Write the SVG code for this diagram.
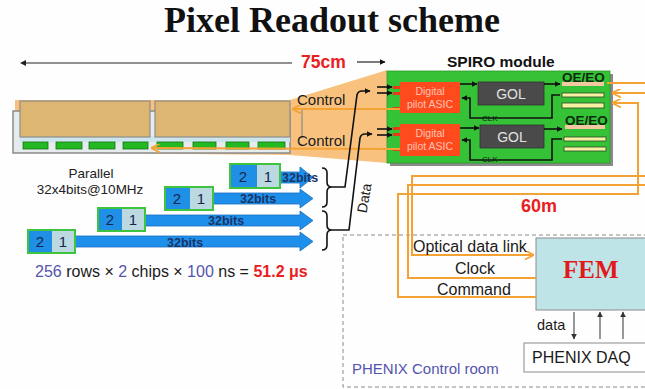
<svg xmlns="http://www.w3.org/2000/svg" width="645" height="389" viewBox="0 0 645 389">
  <style>
    .sans { font-family: "Liberation Sans", Arial, sans-serif; }
    .serif { font-family: "Liberation Serif", "Times New Roman", serif; }
    .orange { fill: none; stroke: #F5A235; stroke-width: 2; }
    .blk { fill: none; stroke: #111; stroke-width: 1.6; }
    .chip { fill: #23B923; stroke: #167016; stroke-width: 0.8; }
    .tan { fill: #DDB672; stroke: #8e8e8e; stroke-width: 1.2; }
    .blue { fill: #1E8FEA; stroke: #1670C0; stroke-width: 0.8; }
    .bits { font-family: "Liberation Sans", Arial, sans-serif; font-size: 12.5px; font-weight: bold; fill: #1B3466; }
    .digit { font-family: "Liberation Sans", Arial, sans-serif; font-size: 15px; fill: #16264f; text-anchor: middle; }
    .asic { fill: #FF4A1E; }
    .stub { fill: #E83A18; }
    .asictxt { font-family: "Liberation Sans", Arial, sans-serif; font-size: 10.5px; fill: #FFC2B4; text-anchor: middle; }
    .gol { fill: #4A4A4A; stroke: #333; stroke-width: 0.8; }
    .goltxt { font-family: "Liberation Sans", Arial, sans-serif; font-size: 14px; fill: #E2E2E2; text-anchor: middle; }
    .bar { fill: #F6F2A2; stroke: #2b4a2b; stroke-width: 0.8; }
    .peach { fill: #F2C8A0; }
    .oeeo { font-family: "Liberation Sans", Arial, sans-serif; font-size: 13.5px; font-weight: bold; fill: #0d2a0d; }
    .clk { font-family: "Liberation Sans", Arial, sans-serif; font-size: 8px; fill: #1a1a1a; }
    .lbl { font-family: "Liberation Sans", Arial, sans-serif; font-size: 16px; fill: #1a1a1a; }
    .pur { fill: #5454AE; }
  </style>
  <defs>
    <marker id="ah-black" viewBox="0 0 10 10" refX="9" refY="5" markerWidth="6" markerHeight="6" orient="auto" markerUnits="userSpaceOnUse">
      <path d="M0,0 L10,5 L0,10 z" fill="#111"/>
    </marker>
    <marker id="ah-orange" viewBox="0 0 10 10" refX="9" refY="5" markerWidth="9" markerHeight="9" orient="auto" markerUnits="userSpaceOnUse">
      <path d="M0,0 L10,5 L0,10" fill="none" stroke="#F5A235" stroke-width="2"/>
    </marker>
    <marker id="ah-gray" viewBox="0 0 10 10" refX="9" refY="5" markerWidth="6" markerHeight="6" orient="auto" markerUnits="userSpaceOnUse">
      <path d="M0,0 L10,5 L0,10 z" fill="#333"/>
    </marker>
  </defs>

  <rect width="645" height="389" fill="#FFFEFE"/>

  <!-- title -->
  <text x="332" y="32" class="serif" font-size="36" font-weight="bold" text-anchor="middle" fill="#111">Pixel Readout scheme</text>

  <!-- 75 cm span -->
  <g id="span-75cm">
    <line x1="22" y1="63" x2="292" y2="63" stroke="#222" stroke-width="1.2"/>
    <path d="M20,63 l6,-3 v6 z" fill="#222"/>
    <text x="301" y="68" class="sans" font-size="17.5" font-weight="bold" fill="#E8201E">75cm</text>
    <line x1="357" y1="62" x2="385" y2="62" stroke="#222" stroke-width="1.2" marker-end="url(#ah-black)"/>
  </g>

  <!-- orange cable fan between ladder and module -->
  <polygon id="cable-fan" points="15,100 290,100 387,70 387,163 290,155 15,152" fill="#F8C27E"/>

  <!-- pixel ladder -->
  <g id="ladder">
    <rect x="13" y="111" width="277" height="42" fill="#E6ECEE" stroke="#8a8a8a" stroke-width="1.5"/>
    <rect x="20" y="136" width="270" height="6" fill="#CDE5EC"/>
    <rect class="tan" x="20" y="101" width="130" height="36"/>
    <rect class="tan" x="155" y="101" width="135" height="36"/>
    <line x1="302" y1="108" x2="302" y2="138" stroke="#8a8a8a" stroke-width="1.2"/>
    <rect class="chip" x="23" y="142" width="25" height="7"/>
    <rect class="chip" x="56" y="142" width="26" height="7"/>
    <rect class="chip" x="89" y="142" width="26" height="7"/>
    <rect class="chip" x="123" y="142" width="25" height="7"/>
    <rect class="chip" x="157" y="142" width="26" height="7"/>
    <rect class="chip" x="193" y="142" width="23" height="7"/>
    <rect class="chip" x="226" y="142" width="23" height="7"/>
    <rect class="chip" x="258" y="142" width="27" height="7"/>
  </g>

  <!-- SPIRO module -->
  <g id="spiro-module">
    <text x="447" y="67" class="sans" font-size="15.5" font-weight="bold" fill="#111">SPIRO module</text>
    <rect x="390" y="74" width="223" height="92" fill="#8a8a8a"/>
    <rect x="387" y="71" width="223" height="92" fill="#36C236" stroke="#2a9a2a" stroke-width="0.8"/>
  </g>

  <g id="asic-top">
    <rect class="stub" x="393" y="86" width="8" height="3"/>
    <rect class="stub" x="393" y="92" width="8" height="3"/>
    <rect class="stub" x="393" y="107" width="8" height="3"/>
    <rect class="asic" x="400" y="82" width="60" height="31"/>
    <text x="430" y="95" class="asictxt">Digital</text>
    <text x="430" y="108" class="asictxt">pilot ASIC</text>
  </g>
  <g id="asic-bottom">
    <rect class="stub" x="393" y="127" width="8" height="3"/>
    <rect class="stub" x="393" y="133" width="8" height="3"/>
    <rect class="stub" x="393" y="148" width="8" height="3"/>
    <rect class="asic" x="400" y="124" width="60" height="32"/>
    <text x="430" y="137" class="asictxt">Digital</text>
    <text x="430" y="150" class="asictxt">pilot ASIC</text>
  </g>
  <g id="gol-top">
    <rect class="gol" x="478" y="82" width="66" height="23"/>
    <text x="511" y="99" class="goltxt">GOL</text>
  </g>
  <g id="gol-bottom">
    <rect class="gol" x="480" y="125" width="64" height="23"/>
    <text x="512" y="142" class="goltxt">GOL</text>
  </g>
  <g id="oeeo-top">
    <rect class="peach" x="562" y="82" width="42" height="4"/>
    <text x="562" y="82" class="oeeo">OE/EO</text>
    <rect class="bar" x="562" y="93" width="42" height="4"/>
    <rect class="bar" x="562" y="103" width="42" height="5"/>
  </g>
  <g id="oeeo-bottom">
    <rect class="peach" x="565" y="125" width="40" height="4"/>
    <text x="565" y="125" class="oeeo">OE/EO</text>
    <rect class="bar" x="564" y="137" width="42" height="4"/>
    <rect class="bar" x="564" y="147" width="42" height="4"/>
  </g>

  <!-- on-board signal paths -->
  <g id="board-connectors">
    <line class="blk" x1="460" y1="84" x2="477" y2="84" stroke-width="1.2" marker-end="url(#ah-black)"/>
    <line class="blk" x1="544" y1="84" x2="560" y2="84" stroke-width="1.2" marker-end="url(#ah-black)"/>
    <path class="blk" d="M560,95 H552 V118 H470 V98 H462" stroke-width="1.2" marker-end="url(#ah-black)"/>
    <text x="482" y="121" class="clk">CLK</text>
    <line class="blk" x1="460" y1="128" x2="479" y2="128" stroke-width="1.2" marker-end="url(#ah-black)"/>
    <line class="blk" x1="544" y1="129" x2="562" y2="129" stroke-width="1.2" marker-end="url(#ah-black)"/>
    <path class="blk" d="M562,139 H552 V160 H470 V140 H462" stroke-width="1.2" marker-end="url(#ah-black)"/>
    <text x="482" y="162" class="clk">CLK</text>
    <!-- paired input arrows -->
    <line class="blk" x1="377" y1="87" x2="392" y2="87" stroke-width="1.4" marker-end="url(#ah-black)"/>
    <line class="blk" x1="377" y1="93" x2="392" y2="93" stroke-width="1.4" marker-end="url(#ah-black)"/>
    <line class="blk" x1="377" y1="129" x2="392" y2="129" stroke-width="1.4" marker-end="url(#ah-black)"/>
    <line class="blk" x1="377" y1="135" x2="392" y2="135" stroke-width="1.4" marker-end="url(#ah-black)"/>
  </g>

  <!-- control lines to the ladder -->
  <g id="control-lines">
    <line class="orange" x1="400" y1="109" x2="293" y2="109" stroke-width="1.5" marker-end="url(#ah-orange)"/>
    <line class="orange" x1="400" y1="149" x2="152" y2="148" stroke-width="1.5" marker-end="url(#ah-orange)"/>
    <text x="297" y="105" class="sans" font-size="15" fill="#1a1a1a">Control</text>
    <text x="297" y="146" class="sans" font-size="15" fill="#1a1a1a">Control</text>
  </g>

  <!-- parallel readout streams -->
  <text x="91" y="178" class="sans" font-size="13.5" fill="#222" text-anchor="middle">Parallel</text>
  <text x="90" y="194" class="sans" font-size="13.5" fill="#222" text-anchor="middle">32x4bits@10MHz</text>

  <g id="stream-1">
    <path class="blue" d="M280,172 H300 V167 L313,177.5 L300,188 V183 H280 Z"/>
    <rect x="230" y="164" width="27" height="24" fill="#2090E6"/>
    <rect x="257" y="164" width="23" height="24" fill="#BCD8E0"/>
    <rect x="230" y="164" width="50" height="24" fill="none" stroke="#3EC43E" stroke-width="2"/>
    <text x="243" y="182" class="digit">2</text>
    <text x="268" y="182" class="digit">1</text>
    <text x="282" y="182" class="bits">32bits</text>
  </g>
  <g id="stream-2">
    <path class="blue" d="M213,193 H300 V189 L313,198.5 L300,208 V204 H213 Z"/>
    <rect x="165" y="187" width="25" height="23" fill="#2090E6"/>
    <rect x="190" y="187" width="23" height="23" fill="#BCD8E0"/>
    <rect x="165" y="187" width="48" height="23" fill="none" stroke="#3EC43E" stroke-width="2"/>
    <text x="177" y="204" class="digit">2</text>
    <text x="201" y="204" class="digit">1</text>
    <text x="240" y="203" class="bits">32bits</text>
  </g>
  <g id="stream-3">
    <path class="blue" d="M145,215 H300 V211 L313,220.5 L300,230 V226 H145 Z"/>
    <rect x="98" y="208" width="24" height="23" fill="#2090E6"/>
    <rect x="122" y="208" width="23" height="23" fill="#BCD8E0"/>
    <rect x="98" y="208" width="47" height="23" fill="none" stroke="#3EC43E" stroke-width="2"/>
    <text x="110" y="225" class="digit">2</text>
    <text x="133" y="225" class="digit">1</text>
    <text x="208" y="225" class="bits">32bits</text>
  </g>
  <g id="stream-4">
    <path class="blue" d="M75,236 H300 V232 L313,241.5 L300,251 V247 H75 Z"/>
    <rect x="28" y="230" width="24" height="23" fill="#2090E6"/>
    <rect x="52" y="230" width="23" height="23" fill="#BCD8E0"/>
    <rect x="28" y="230" width="47" height="23" fill="none" stroke="#3EC43E" stroke-width="2"/>
    <text x="40" y="247" class="digit">2</text>
    <text x="63" y="247" class="digit">1</text>
    <text x="167" y="247" class="bits">32bits</text>
  </g>

  <!-- data merge to module -->
  <g id="data-lines">
    <path class="blk" d="M322,168 q5,0 5,5 v9 q0,5 5,5 q-5,0 -5,5 v10 q0,5 -5,5"/>
    <path class="blk" d="M322,211 q5,0 5,5 v9 q0,5 5,5 q-5,0 -5,5 v10 q0,5 -5,5"/>
    <path class="blk" d="M332,187 H345 L357,95 Q358,91 362,91 H370" marker-end="url(#ah-black)"/>
    <path class="blk" d="M332,230 H349 L360,138 Q361,134 365,134 H372" marker-end="url(#ah-black)"/>
    <text x="0" y="0" class="sans" font-size="14" fill="#1a1a1a" text-anchor="middle" transform="translate(369,199) rotate(-80)">Data</text>
  </g>

  <text x="35" y="277" class="sans" font-size="16" fill="#1a1a1a"><tspan class="pur">256</tspan> rows × <tspan class="pur">2</tspan> chips × <tspan class="pur">100</tspan> ns = <tspan fill="#E8201E" font-weight="bold">51.2 μs</tspan></text>

  <!-- control room -->
  <g id="control-room">
    <rect x="343" y="235" width="320" height="152" fill="none" stroke="#8a8a8a" stroke-width="1" stroke-dasharray="4,3"/>
    <text x="352" y="374" class="sans" font-size="15" fill="#5454AE">PHENIX Control room</text>
  </g>

  <g id="fem">
    <rect x="536" y="238" width="120" height="72" fill="#BFE4E8" stroke="#8a8a8a" stroke-width="1"/>
    <text x="563" y="278" class="serif" font-size="25" font-weight="bold" fill="#E01A1A">FEM</text>
  </g>

  <g id="phenix-daq">
    <rect x="524" y="343" width="130" height="29" fill="#FFFFFF" stroke="#8a8a8a" stroke-width="1"/>
    <text x="532" y="363" class="sans" font-size="16" fill="#1a1a1a">PHENIX DAQ</text>
  </g>

  <!-- optical links between module and FEM -->
  <g id="links">
    <path class="orange" d="M607,83 H646"/>
    <path class="orange" d="M646,176 H412 V255 H533" marker-end="url(#ah-orange)"/>
    <path class="orange" d="M536,278 H408 V185 H646"/>
    <path class="orange" d="M646,93 H613" marker-end="url(#ah-orange)"/>
    <path class="orange" d="M536,297 H398 V194 H638 V103 H613" marker-end="url(#ah-orange)"/>
    <line x1="574" y1="312" x2="574" y2="339" stroke="#333" stroke-width="1" marker-end="url(#ah-gray)"/>
    <line x1="600" y1="339" x2="600" y2="312" stroke="#333" stroke-width="1" marker-end="url(#ah-gray)"/>
    <line x1="623" y1="339" x2="623" y2="312" stroke="#333" stroke-width="1" marker-end="url(#ah-gray)"/>
  </g>

  <text x="539" y="212" class="sans" font-size="18" font-weight="bold" fill="#E8201E" text-anchor="middle">60m</text>
  <text x="413" y="252" class="lbl">Optical data link</text>
  <text x="455" y="274" class="lbl">Clock</text>
  <text x="437" y="295" class="lbl">Command</text>
  <text x="537" y="330" class="sans" font-size="14.5" fill="#1a1a1a">data</text>
</svg>
